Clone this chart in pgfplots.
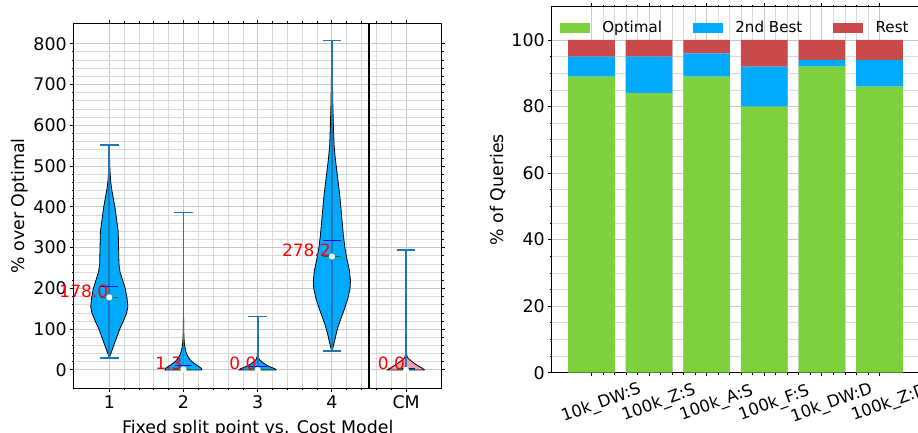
\documentclass[border=0pt]{standalone}
\usepackage{fontspec}
\setmainfont{DejaVu Sans}
\usepackage{pgfplots}
\usepackage{pgfplotstable}
\pgfplotsset{compat=1.18}
\definecolor{vblue}{RGB}{0,170,255}
\definecolor{vpink}{RGB}{238,160,180}
\definecolor{mplblue}{RGB}{31,119,180}
\definecolor{bgreen}{RGB}{126,208,60}
\definecolor{bred}{RGB}{200,74,74}
\definecolor{gridmaj}{RGB}{200,200,200}
\definecolor{gridmin}{RGB}{218,218,218}

% violin outlines: w = signed half width, y = value
\pgfplotstableread{
w y
0 30
0.03 45
0.06 60
0.10 80
0.14 100
0.19 120
0.235 140
0.25 155
0.24 175
0.215 200
0.18 220
0.145 240
0.13 260
0.125 300
0.12 340
0.105 360
0.09 380
0.075 400
0.055 420
0.035 440
0.02 460
0.012 480
0.006 500
0.002 530
0 552
-0.002 530
-0.006 500
-0.012 480
-0.02 460
-0.035 440
-0.055 420
-0.075 400
-0.09 380
-0.105 360
-0.12 340
-0.125 300
-0.13 260
-0.145 240
-0.18 220
-0.215 200
-0.24 175
-0.25 155
-0.235 140
-0.19 120
-0.14 100
-0.10 80
-0.06 60
-0.03 45
0 30
}\vone
\pgfplotstableread{
w y
0.25 0
0.24 4
0.21 8
0.175 12
0.145 16
0.115 20
0.09 25
0.07 30
0.048 37
0.032 45
0.02 55
0.012 65
0.006 80
0.003 100
0 150
-0.003 100
-0.006 80
-0.012 65
-0.02 55
-0.032 45
-0.048 37
-0.07 30
-0.09 25
-0.115 20
-0.145 16
-0.175 12
-0.21 8
-0.24 4
-0.25 0
0.25 0
}\vtwo
\pgfplotstableread{
w y
0.25 0
0.23 3
0.19 6
0.15 9
0.115 12
0.085 16
0.055 20
0.03 24
0.015 28
0.006 35
0.002 50
0 70
-0.002 50
-0.006 35
-0.015 28
-0.03 24
-0.055 20
-0.085 16
-0.115 12
-0.15 9
-0.19 6
-0.23 3
-0.25 0
0.25 0
}\vthree
\pgfplotstableread{
w y
0 47
0.015 55
0.035 70
0.06 90
0.09 110
0.13 130
0.17 150
0.215 175
0.245 200
0.25 220
0.235 245
0.205 270
0.175 300
0.155 330
0.14 360
0.12 400
0.105 430
0.085 460
0.065 490
0.045 520
0.03 550
0.02 600
0.013 650
0.008 700
0.004 750
0 808
-0.004 750
-0.008 700
-0.013 650
-0.02 600
-0.03 550
-0.045 520
-0.065 490
-0.085 460
-0.105 430
-0.12 400
-0.14 360
-0.155 330
-0.175 300
-0.205 270
-0.235 245
-0.25 220
-0.245 200
-0.215 175
-0.17 150
-0.13 130
-0.09 110
-0.06 90
-0.035 70
-0.015 55
0 47
}\vfour
\pgfplotstableread{
w y
0.25 0
0.22 4
0.18 8
0.145 12
0.11 16
0.085 20
0.055 24
0.03 28
0.015 32
0.006 40
0.002 55
0 80
-0.002 55
-0.006 40
-0.015 32
-0.03 28
-0.055 24
-0.085 20
-0.11 16
-0.145 12
-0.18 8
-0.22 4
-0.25 0
0.25 0
}\vcm
% x min max mean median label
\pgfplotstableread{
x mn mx mean med label
1 30 552 205 178.0 178.0
2 0 386 11.4 1.3 1.3
3 0 131 8 0.0 0.0
4 47 808 317 278.2 278.2
5 0 294 3 0.0 0.0
}\vstats
\pgfplotstableread{
x opt sec rest
0 89 6 5
1 84 11 5
2 89 7 4
3 80 12 8
4 92 2 6
5 86 8 6
}\bars

\begin{document}
\begin{tikzpicture}
\pgfplotsset{
  every axis/.append style={
    scale only axis,
    font=\fontsize{17.4}{20}\selectfont,
    /pgf/number format/assume math mode=true,
    tick align=outside,
    major tick length=3.5pt, minor tick length=2pt,
    grid=both,
    major grid style={gridmaj, line width=0.9pt},
    minor grid style={gridmin, line width=0.7pt},
    axis line style={black, line width=1pt},
    every tick/.style={black, line width=0.9pt},
    every minor tick/.style={black, line width=0.7pt},
  }
}
% ---------- left: violins ----------
\begin{axis}[
  at={(73.7pt,44.7pt)}, anchor=south west, width=368pt, height=365pt,
  xmin=0.52, xmax=5.48, ymin=-45, ymax=850,
  xtick={1,2,3,4,5}, xticklabels={1,2,3,4,CM},
  minor x tick num=4,
  ytick={0,100,...,800}, minor y tick num=4,
  clip=false,
  ylabel={\% over Optimal},
  ylabel style={at={(axis description cs:-0.1467,0.5)}, anchor=center},
  xlabel={Fixed split point vs. Cost Model},
  xlabel style={at={(axis description cs:0.5,-0.088)}, anchor=north, inner sep=0pt},
]
\addplot[fill=vblue, draw=black, line width=0.8pt] table[x expr=1+\thisrow{w}, y=y] {\vone};
\addplot[fill=vblue, draw=black, line width=0.8pt] table[x expr=2+\thisrow{w}, y=y] {\vtwo};
\addplot[fill=vblue, draw=black, line width=0.8pt] table[x expr=3+\thisrow{w}, y=y] {\vthree};
\addplot[fill=vblue, draw=black, line width=0.8pt] table[x expr=4+\thisrow{w}, y=y] {\vfour};
\addplot[fill=vpink, draw=black, line width=0.8pt] table[x expr=5+\thisrow{w}, y=y] {\vcm};
% center lines and caps
\addplot[mplblue, line width=1.7pt, forget plot] coordinates {(1,30) (1,552)};
\addplot[mplblue, line width=1.7pt, forget plot] coordinates {(2,0) (2,386)};
\addplot[mplblue, line width=1.7pt, forget plot] coordinates {(3,0) (3,131)};
\addplot[mplblue, line width=1.7pt, forget plot] coordinates {(4,47) (4,808)};
\addplot[mplblue, line width=1.7pt, forget plot] coordinates {(5,0) (5,294)};
\addplot[mplblue, line width=1.7pt, forget plot] coordinates {(0.875,552) (1.125,552)};
\addplot[mplblue, line width=1.7pt, forget plot] coordinates {(0.875,30) (1.125,30)};
\addplot[mplblue, line width=1.7pt, forget plot] coordinates {(1.875,386) (2.125,386)};
\addplot[mplblue, line width=1.7pt, forget plot] coordinates {(2.875,131) (3.125,131)};
\addplot[mplblue, line width=1.7pt, forget plot] coordinates {(3.875,808) (4.125,808)};
\addplot[mplblue, line width=1.7pt, forget plot] coordinates {(3.875,47) (4.125,47)};
\addplot[mplblue, line width=1.7pt, forget plot] coordinates {(4.875,294) (5.125,294)};
% mean (blue) and median (green)
\addplot[blue, line width=1.5pt, forget plot] coordinates {(0.88,205) (1.12,205)};
\addplot[blue, line width=1.5pt, forget plot] coordinates {(1.88,11.4) (2.12,11.4)};
\addplot[blue, line width=1.5pt, forget plot] coordinates {(2.88,8) (3.12,8)};
\addplot[blue, line width=1.5pt, forget plot] coordinates {(3.88,317) (4.12,317)};
\addplot[blue, line width=1.5pt, forget plot] coordinates {(4.88,3) (5.12,3)};
\addplot[green!50!black, line width=1.5pt, forget plot] coordinates {(0.88,177.5) (1.12,177.5)};
\addplot[green!50!black, line width=1.5pt, forget plot] coordinates {(1.88,1) (2.12,1)};
\addplot[green!50!black, line width=1.5pt, forget plot] coordinates {(2.88,0.5) (3.12,0.5)};
\addplot[green!50!black, line width=1.5pt, forget plot] coordinates {(3.88,278) (4.12,278)};
\addplot[green!50!black, line width=1.5pt, forget plot] coordinates {(4.88,0.5) (5.12,0.5)};
% median dots + labels
\addplot[only marks, mark=*, mark size=2.8pt, mark options={fill=white, draw=white},
  nodes near coords, point meta=explicit symbolic,
  nodes near coords style={anchor=base east, inner sep=0pt, text=red, font=\fontsize{17}{20}\selectfont, xshift=-1pt}]
  table[x=x, y=med, meta=label] {\vstats};
% separator
\addplot[black, line width=1.4pt] coordinates {(4.5,-45) (4.5,850)};
\end{axis}
% ---------- right: stacked bars ----------
\begin{axis}[
  at={(551.7pt,60.3pt)}, anchor=south west, width=367.5pt, height=366pt,
  ybar stacked, bar width=0.81,
  xmin=-0.69, xmax=5.69, ymin=0, ymax=110,
  xtick={0,1,2,3,4,5},
  xticklabels={10k\_DW:S,100k\_Z:S,100k\_A:S,100k\_F:S,10k\_DW:D,100k\_Z:D},
  xticklabel style={rotate=20, anchor=center, yshift=-29pt, font=\fontsize{16.5}{19}\selectfont},
  minor x tick num=4,
  ytick={0,20,...,100}, minor y tick num=3,
  ylabel={\% of Queries},
  ylabel style={at={(axis description cs:-0.147,0.5)}, anchor=center},
  legend columns=3,
  legend style={draw=none, fill=none, inner sep=0pt, outer sep=0pt,
    font=\fontsize{15.1}{18}\selectfont,
    at={(axis description cs:0.0226,0.9426)}, anchor=west,
    nodes={inner sep=0pt, anchor=west},
    /tikz/every odd column/.append style={column sep=12.3pt},
    /tikz/every even column/.append style={column sep=31pt}},
  legend image code/.code={\path[#1, draw=none] (0pt,-5pt) rectangle (30pt,5pt);},
]
\addplot[fill=bgreen, draw=none] table[x=x, y=opt] {\bars};
\addplot[fill=vblue, draw=none] table[x=x, y=sec] {\bars};
\addplot[fill=bred, draw=none] table[x=x, y=rest] {\bars};
\legend{Optimal, 2nd Best, Rest}
\end{axis}
\pgfresetboundingbox
\path (0pt,0pt) rectangle (918pt,433pt);
\end{tikzpicture}
\end{document}
